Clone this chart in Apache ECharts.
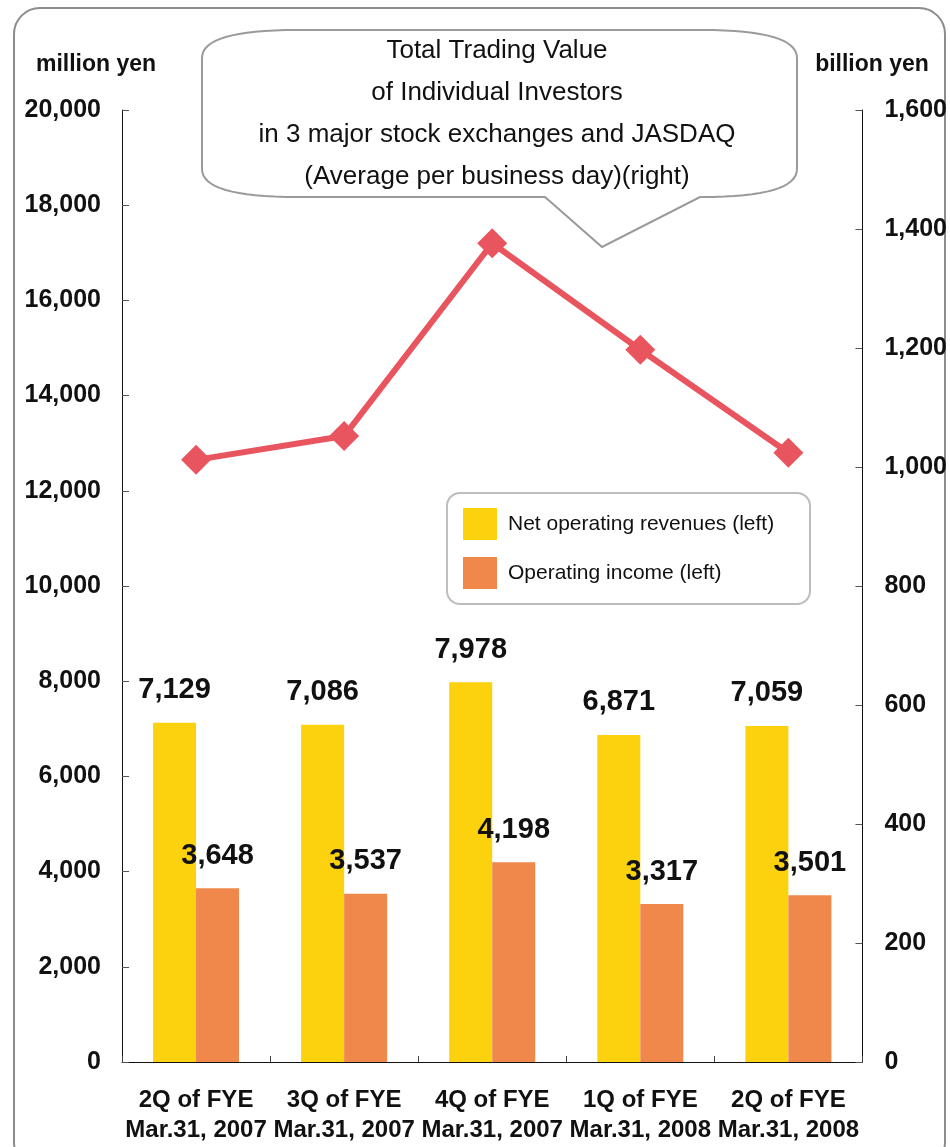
<!DOCTYPE html>
<html>
<head>
<meta charset="utf-8">
<title>Net operating revenues, operating income and trading value</title>
<script src="https://cdn.jsdelivr.net/npm/echarts@6/dist/echarts.min.js"></script>
<style>
  html, body { margin: 0; padding: 0; background: #ffffff; }
  #chart { width: 950px; height: 1147px; }
</style>
</head>
<body>
<div id="chart"></div>
<script>
// Quarter labels
const categories = [
  '2Q of FYE\nMar.31, 2007',
  '3Q of FYE\nMar.31, 2007',
  '4Q of FYE\nMar.31, 2007',
  '1Q of FYE\nMar.31, 2008',
  '2Q of FYE\nMar.31, 2008'
];
// million yen (left axis)
const netOperatingRevenues = [7129, 7086, 7978, 6871, 7059];
const operatingIncome = [3648, 3537, 4198, 3317, 3501];
// billion yen (right axis), average per business day
const tradingValue = [1012, 1052, 1376, 1197, 1024];

const calloutLines = [
  'Total Trading Value',
  'of Individual Investors',
  'in 3 major stock exchanges and JASDAQ',
  '(Average per business day)(right)'
];

const FONT = '"Liberation Sans", Arial, sans-serif';
const fmt = v => v.toLocaleString('en-US');

// Outline of the speech bubble: straight segments plus quadratic corners
function quad(p0, c, p1, n) {
  const pts = [];
  for (let i = 1; i <= n; i++) {
    const t = i / n, u = 1 - t;
    pts.push([u * u * p0[0] + 2 * u * t * c[0] + t * t * p1[0],
              u * u * p0[1] + 2 * u * t * c[1] + t * t * p1[1]]);
  }
  return pts;
}
function bubblePoints() {
  const L = 202, R = 797, T = 30, B = 197, rx = 95, ry = 28;
  let pts = [[L + rx, T], [R - rx, T]];
  pts = pts.concat(quad([R - rx, T], [R, T], [R, T + ry], 16));
  pts.push([R, B - ry]);
  pts = pts.concat(quad([R, B - ry], [R, B], [R - rx, B], 16));
  pts.push([700, B], [602, 247], [545, B], [L + rx, B]);
  pts = pts.concat(quad([L + rx, B], [L, B], [L, B - ry], 16));
  pts.push([L, T + ry]);
  pts = pts.concat(quad([L, T + ry], [L, T], [L + rx, T], 16));
  return pts;
}

const chart = echarts.init(document.getElementById('chart'), null, { renderer: 'canvas' });

const valueLabel = {
  show: true,
  position: 'top',
  distance: 18,
  fontFamily: FONT,
  fontSize: 29,
  fontWeight: 'bold',
  color: '#111',
  formatter: p => fmt(p.value)
};

const calloutText = calloutLines.map((t, i) => ({
  type: 'text',
  z: 20,
  silent: true,
  style: {
    text: t,
    x: 497,
    y: 51 + i * 42,
    textAlign: 'center',
    textVerticalAlign: 'middle',
    fontFamily: FONT,
    fontSize: 26,
    fill: '#111'
  }
}));

chart.setOption({
  animation: false,
  backgroundColor: '#ffffff',
  grid: { left: 122, right: 87, top: 110, bottom: 85, containLabel: false },
  legend: {
    data: ['Net operating revenues (left)', 'Operating income (left)'],
    orient: 'vertical',
    left: 458,
    top: 503,
    itemWidth: 34,
    itemHeight: 32,
    itemGap: 17,
    icon: 'rect',
    textStyle: { fontFamily: FONT, fontSize: 21, color: '#111', padding: [0, 0, 0, 6] },
    z: 30
  },
  xAxis: {
    type: 'category',
    data: categories,
    axisLine: { lineStyle: { color: '#111', width: 1 } },
    axisTick: { show: true, inside: true, length: 6, lineStyle: { color: '#444' } },
    axisLabel: {
      fontFamily: FONT,
      fontSize: 24,
      fontWeight: 'bold',
      color: '#111',
      lineHeight: 30,
      margin: 23,
      interval: 0
    }
  },
  yAxis: [
    {
      type: 'value',
      min: 0,
      max: 20000,
      interval: 2000,
      splitLine: { show: false },
      axisLine: { show: true, lineStyle: { color: '#111', width: 1 } },
      axisTick: { show: true, inside: true, length: 7, lineStyle: { color: '#555' } },
      axisLabel: {
        fontFamily: FONT,
        fontSize: 25,
        fontWeight: 'bold',
        color: '#111',
        margin: 21,
        formatter: v => fmt(v)
      }
    },
    {
      type: 'value',
      min: 0,
      max: 1600,
      interval: 200,
      splitLine: { show: false },
      axisLine: { show: true, lineStyle: { color: '#111', width: 1 } },
      axisTick: { show: true, inside: true, length: 7, lineStyle: { color: '#555' } },
      axisLabel: {
        fontFamily: FONT,
        fontSize: 25,
        fontWeight: 'bold',
        color: '#111',
        margin: 22,
        formatter: v => fmt(v)
      }
    }
  ],
  series: [
    {
      name: 'Net operating revenues (left)',
      type: 'bar',
      yAxisIndex: 0,
      data: netOperatingRevenues,
      barWidth: 43,
      barGap: '0%',
      itemStyle: { color: '#FCD10D' },
      label: valueLabel,
      z: 2
    },
    {
      name: 'Operating income (left)',
      type: 'bar',
      yAxisIndex: 0,
      data: operatingIncome,
      barWidth: 43,
      barGap: '0%',
      itemStyle: { color: '#F0874B' },
      label: valueLabel,
      z: 2
    },
    {
      name: 'Total Trading Value',
      type: 'line',
      yAxisIndex: 1,
      data: tradingValue,
      symbol: 'diamond',
      symbolSize: [30, 30],
      lineStyle: { color: '#E9555F', width: 6 },
      itemStyle: { color: '#E9555F' },
      z: 5
    }
  ],
  graphic: [
    // outer frame
    {
      type: 'rect',
      z: -10,
      silent: true,
      shape: { x: 14, y: 8, width: 931, height: 1160, r: 26 },
      style: { fill: 'none', stroke: '#8c8c8c', lineWidth: 2 }
    },
    // legend frame
    {
      type: 'rect',
      z: 25,
      silent: true,
      shape: { x: 447, y: 493, width: 363, height: 111, r: 13 },
      style: { fill: '#ffffff', stroke: '#bdbdbd', lineWidth: 2 }
    },
    // speech bubble
    {
      type: 'polygon',
      z: 15,
      silent: true,
      shape: { points: bubblePoints() },
      style: { fill: '#ffffff', stroke: '#9a9a9a', lineWidth: 2 }
    },
    ...calloutText,
    // axis units
    {
      type: 'text',
      z: 20,
      silent: true,
      style: {
        text: 'million yen', x: 96, y: 65,
        textAlign: 'center', textVerticalAlign: 'middle',
        fontFamily: FONT, fontSize: 23, fontWeight: 'bold', fill: '#111'
      }
    },
    {
      type: 'text',
      z: 20,
      silent: true,
      style: {
        text: 'billion yen', x: 872, y: 65,
        textAlign: 'center', textVerticalAlign: 'middle',
        fontFamily: FONT, fontSize: 23, fontWeight: 'bold', fill: '#111'
      }
    }
  ]
});
</script>
</body>
</html>
